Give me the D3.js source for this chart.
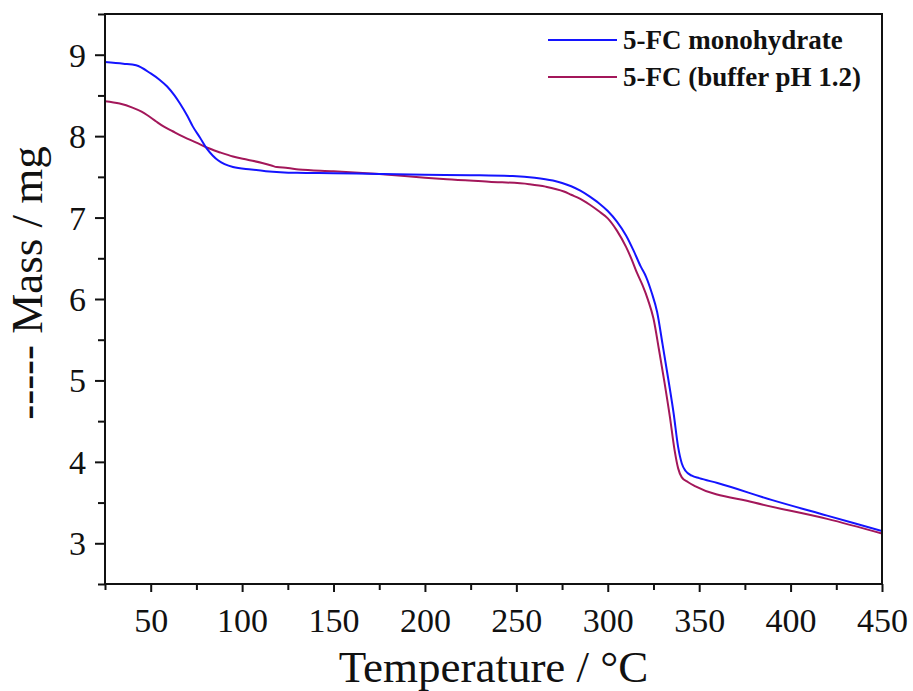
<!DOCTYPE html>
<html><head><meta charset="utf-8">
<script src="https://cdn.jsdelivr.net/npm/d3@7"></script>
<style>body{margin:0;background:#fff}svg{display:block}text{font-family:"Liberation Serif","Times New Roman",serif;fill:#111}</style>
</head><body><svg id="c" width="913" height="691"></svg>
<script>
const monoT = [25,35,42,50,55,59,63,66,70,73,77,80.6,84,87,95,105,113,130,150,175,200,225,248,260,270,275,280,285,290,295,300,305,310,314,318,321,324,327,330,333,336,338.5,340.5,342.5,346,350,360,390,420,450];
const monoM = [8.91,8.89,8.87,8.77,8.69,8.61,8.50,8.40,8.25,8.12,7.98,7.85,7.76,7.70,7.62,7.59,7.57,7.55,7.545,7.535,7.525,7.52,7.51,7.49,7.455,7.425,7.385,7.33,7.26,7.18,7.08,6.95,6.78,6.60,6.40,6.27,6.08,5.84,5.44,5.03,4.60,4.18,3.98,3.89,3.83,3.80,3.74,3.53,3.34,3.15];
const bufT = [25,33,40,45,48,53,57,62,68,75,80.6,88,95,103,111,116,119,125,131,150,175,200,212,235,257,266,276,280,285,290,295,300,305,310,313,316,319,322,325,328,331,334,336.5,338.5,340.5,344,348,380,420,450];
const bufM = [8.43,8.40,8.35,8.30,8.26,8.18,8.12,8.06,7.99,7.92,7.86,7.80,7.75,7.71,7.67,7.64,7.62,7.61,7.59,7.57,7.535,7.49,7.47,7.44,7.41,7.38,7.32,7.28,7.23,7.16,7.08,6.99,6.84,6.64,6.49,6.32,6.17,5.99,5.76,5.38,4.98,4.55,4.15,3.92,3.81,3.75,3.70,3.50,3.30,3.12];
const seriesNames = ["5-FC monohydrate","5-FC (buffer pH 1.2)"];
const seriesColors = ["#1414ff","#a3175a"];
const xTicks = [50,100,150,200,250,300,350,400,450];
const yTicks = [3,4,5,6,7,8,9];

const svg = d3.select("#c");
const L=105,R=882,T=14,B=584;
const x = d3.scaleLinear().domain([25,450]).range([L,R]);
const y = d3.scaleLinear().domain([2.5,9.5]).range([B,T]);

const line = d3.line().x(d=>x(d[0])).y(d=>y(d[1])).curve(d3.curveMonotoneX);
const series = [d3.zip(monoT,monoM), d3.zip(bufT,bufM)];

svg.append("clipPath").attr("id","cp").append("rect").attr("x",L).attr("y",T).attr("width",R-L).attr("height",B-T);
svg.append("path").datum(series[1]).attr("d",line).attr("fill","none").attr("stroke",seriesColors[1]).attr("stroke-width",2).attr("clip-path","url(#cp)");
svg.append("path").datum(series[0]).attr("d",line).attr("fill","none").attr("stroke",seriesColors[0]).attr("stroke-width",2).attr("clip-path","url(#cp)");

svg.append("rect").attr("x",L).attr("y",T).attr("width",R-L).attr("height",B-T).attr("fill","none").attr("stroke","#111").attr("stroke-width",2);

const xa = svg.append("g").attr("transform",`translate(0,${B})`)
  .call(d3.axisBottom(x).tickValues(xTicks).tickSize(8).tickFormat(d3.format("d")));
xa.select(".domain").remove();
xa.selectAll("line").attr("stroke","#111").attr("stroke-width",2);
xa.selectAll("text").attr("font-size",34).attr("dy",null).attr("y",48).attr("font-family","Liberation Serif").attr("fill","#222");
const xm = svg.append("g").attr("transform",`translate(0,${B})`)
  .call(d3.axisBottom(x).tickValues(d3.range(25,451,50)).tickSize(6).tickFormat(""));
xm.select(".domain").remove();
xm.selectAll("line").attr("stroke","#111").attr("stroke-width",2);

const ya = svg.append("g").attr("transform",`translate(${L},0)`)
  .call(d3.axisLeft(y).tickValues(yTicks).tickSize(10).tickFormat(d3.format("d")));
ya.select(".domain").remove();
ya.selectAll("line").attr("stroke","#111").attr("stroke-width",2);
ya.selectAll("text").attr("font-size",34).attr("x",-19).attr("dy","0.34em").attr("font-family","Liberation Serif").attr("fill","#222");
const ym = svg.append("g").attr("transform",`translate(${L},0)`)
  .call(d3.axisLeft(y).tickValues(d3.range(2.5,9.6,1)).tickSize(7).tickFormat(""));
ym.select(".domain").remove();
ym.selectAll("line").attr("stroke","#111").attr("stroke-width",2);

svg.append("text").attr("x",(L+R)/2).attr("y",682).attr("text-anchor","middle").attr("font-size",45).text("Temperature / °C");
svg.append("text").attr("transform",`translate(42,${283}) rotate(-90)`).attr("text-anchor","middle").attr("font-size",45).text("----- Mass / mg");

const lg = svg.append("g");
seriesNames.forEach((n,i)=>{
  const yy = 40 + i*37;
  lg.append("line").attr("x1",548).attr("x2",617).attr("y1",yy).attr("y2",yy).attr("stroke",seriesColors[i]).attr("stroke-width",2);
  lg.append("text").attr("x",623).attr("y",yy).attr("dy","0.35em").attr("font-size",27).attr("font-weight","bold").text(n);
});
</script></body></html>
